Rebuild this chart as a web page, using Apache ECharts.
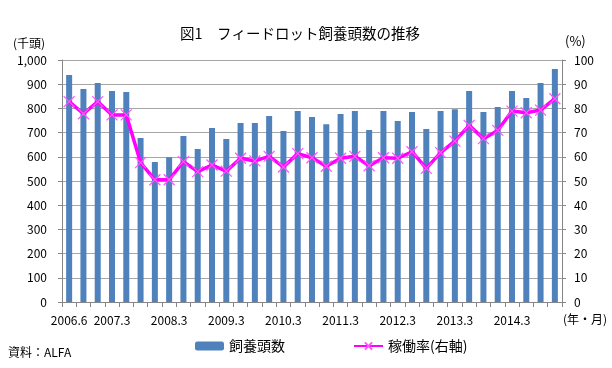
<!DOCTYPE html>
<html>
<head>
<meta charset="utf-8">
<script src="https://cdn.jsdelivr.net/npm/echarts@6/dist/echarts.min.js"></script>
<style>
html,body{margin:0;padding:0;background:#fff;}
#c{width:612px;height:368px;}
</style>
</head>
<body>
<div id="c"></div>
<script>
var categories = ['2006.6','2006.9','2006.12',
  '2007.3','2007.6','2007.9','2007.12',
  '2008.3','2008.6','2008.9','2008.12',
  '2009.3','2009.6','2009.9','2009.12',
  '2010.3','2010.6','2010.9','2010.12',
  '2011.3','2011.6','2011.9','2011.12',
  '2012.3','2012.6','2012.9','2012.12',
  '2013.3','2013.6','2013.9','2013.12',
  '2014.3','2014.6','2014.9','2014.12'];
var heads = [938,880,905,872,868,678,579,598,686,632,719,674,740,740,769,707,789,764,735,777,789,711,789,748,785,715,789,796,872,785,806,872,843,905,963];
var rate = [82.8,77.8,82.8,77.3,77.3,57.6,50.5,50.5,58.0,53.9,56.6,54.1,59.4,58.3,60.2,55.8,61.3,59.6,56.1,59.4,60.2,56.3,59.6,59.4,62.1,55.2,61.7,66.5,73.0,67.5,70.9,78.9,78.2,79.3,84.0];
var leftTicks = {min:0, max:1000, interval:100};
var rightTicks = {min:0, max:100, interval:10};

var FONT = '"Noto Sans CJK JP", "Noto Sans", sans-serif';
var chart = echarts.init(document.getElementById('c'), null, {renderer:'canvas'});
function comma(v){ return String(v).replace(/\B(?=(\d{3})+(?!\d))/g, ','); }
var axisGray = '#868686';
chart.setOption({
  animation:false,
  backgroundColor:'#fff',
  textStyle:{fontFamily:FONT, color:'#000'},
  title:{
    text:'図1　フィードロット飼養頭数の推移',
    left:175, top:21,
    textStyle:{fontFamily:FONT, fontSize:14.5, fontWeight:'normal', color:'#000'}
  },
  graphic:[
    {type:'text', left:13, top:37, style:{text:'(千頭)', font:'12px ' + FONT, fill:'#000'}},
    {type:'text', left:565, top:35, style:{text:'(%)', font:'13px ' + FONT, fill:'#000'}},
    {type:'text', left:563, top:313, style:{text:'(年・月)', font:'12px ' + FONT, fill:'#000'}},
    {type:'text', left:8, top:346, style:{text:'資料：ALFA', font:'12px ' + FONT, fill:'#000'}}
  ],
  legend:{
    left:190, top:334,
    itemWidth:29, itemHeight:9, itemGap:68,
    textStyle:{fontFamily:FONT, fontSize:14, color:'#000'},
    data:['飼養頭数','稼働率(右軸)']
  },
  grid:{left:62, right:50, top:60, bottom:66},
  xAxis:{
    type:'category', data:categories, boundaryGap:true,
    axisLine:{lineStyle:{color:axisGray, width:1}},
    axisTick:{show:true, interval:0, alignWithLabel:false, length:5, lineStyle:{color:axisGray}},
    axisLabel:{
      interval:function(i, v){ return i === 0 || /\.3$/.test(v); },
      margin:12, fontSize:12, fontFamily:FONT, color:'#000'
    },
    splitLine:{show:false}
  },
  yAxis:[
    {type:'value', min:leftTicks.min, max:leftTicks.max, interval:leftTicks.interval,
     axisLine:{show:true, lineStyle:{color:axisGray}},
     axisTick:{show:true, length:4, lineStyle:{color:axisGray}},
     axisLabel:{formatter:comma, margin:15, fontSize:12, fontFamily:FONT, color:'#000'},
     splitLine:{show:true, lineStyle:{color:'#A6A6A6', width:1}}},
    {type:'value', min:rightTicks.min, max:rightTicks.max, interval:rightTicks.interval, position:'right',
     axisLine:{show:true, lineStyle:{color:axisGray}},
     axisTick:{show:true, length:4, lineStyle:{color:axisGray}},
     axisLabel:{margin:12, fontSize:12, fontFamily:FONT, color:'#000'},
     splitLine:{show:false}}
  ],
  series:[
    {name:'飼養頭数', type:'bar', data:heads, yAxisIndex:0, barWidth:6,
     itemStyle:{color:'#4F81BD'}},
    {name:'稼働率(右軸)', type:'line', data:rate, yAxisIndex:1,
     lineStyle:{color:'#FF00FF', width:3.5},
     symbol:'path://M0,0L10,10M10,0L0,10', symbolSize:11, showSymbol:true, showAllSymbol:true,
     itemStyle:{color:'#FF00FF', borderColor:'#FF55FF', borderWidth:1.2},
     z:3}
  ]
});
</script>
</body>
</html>
